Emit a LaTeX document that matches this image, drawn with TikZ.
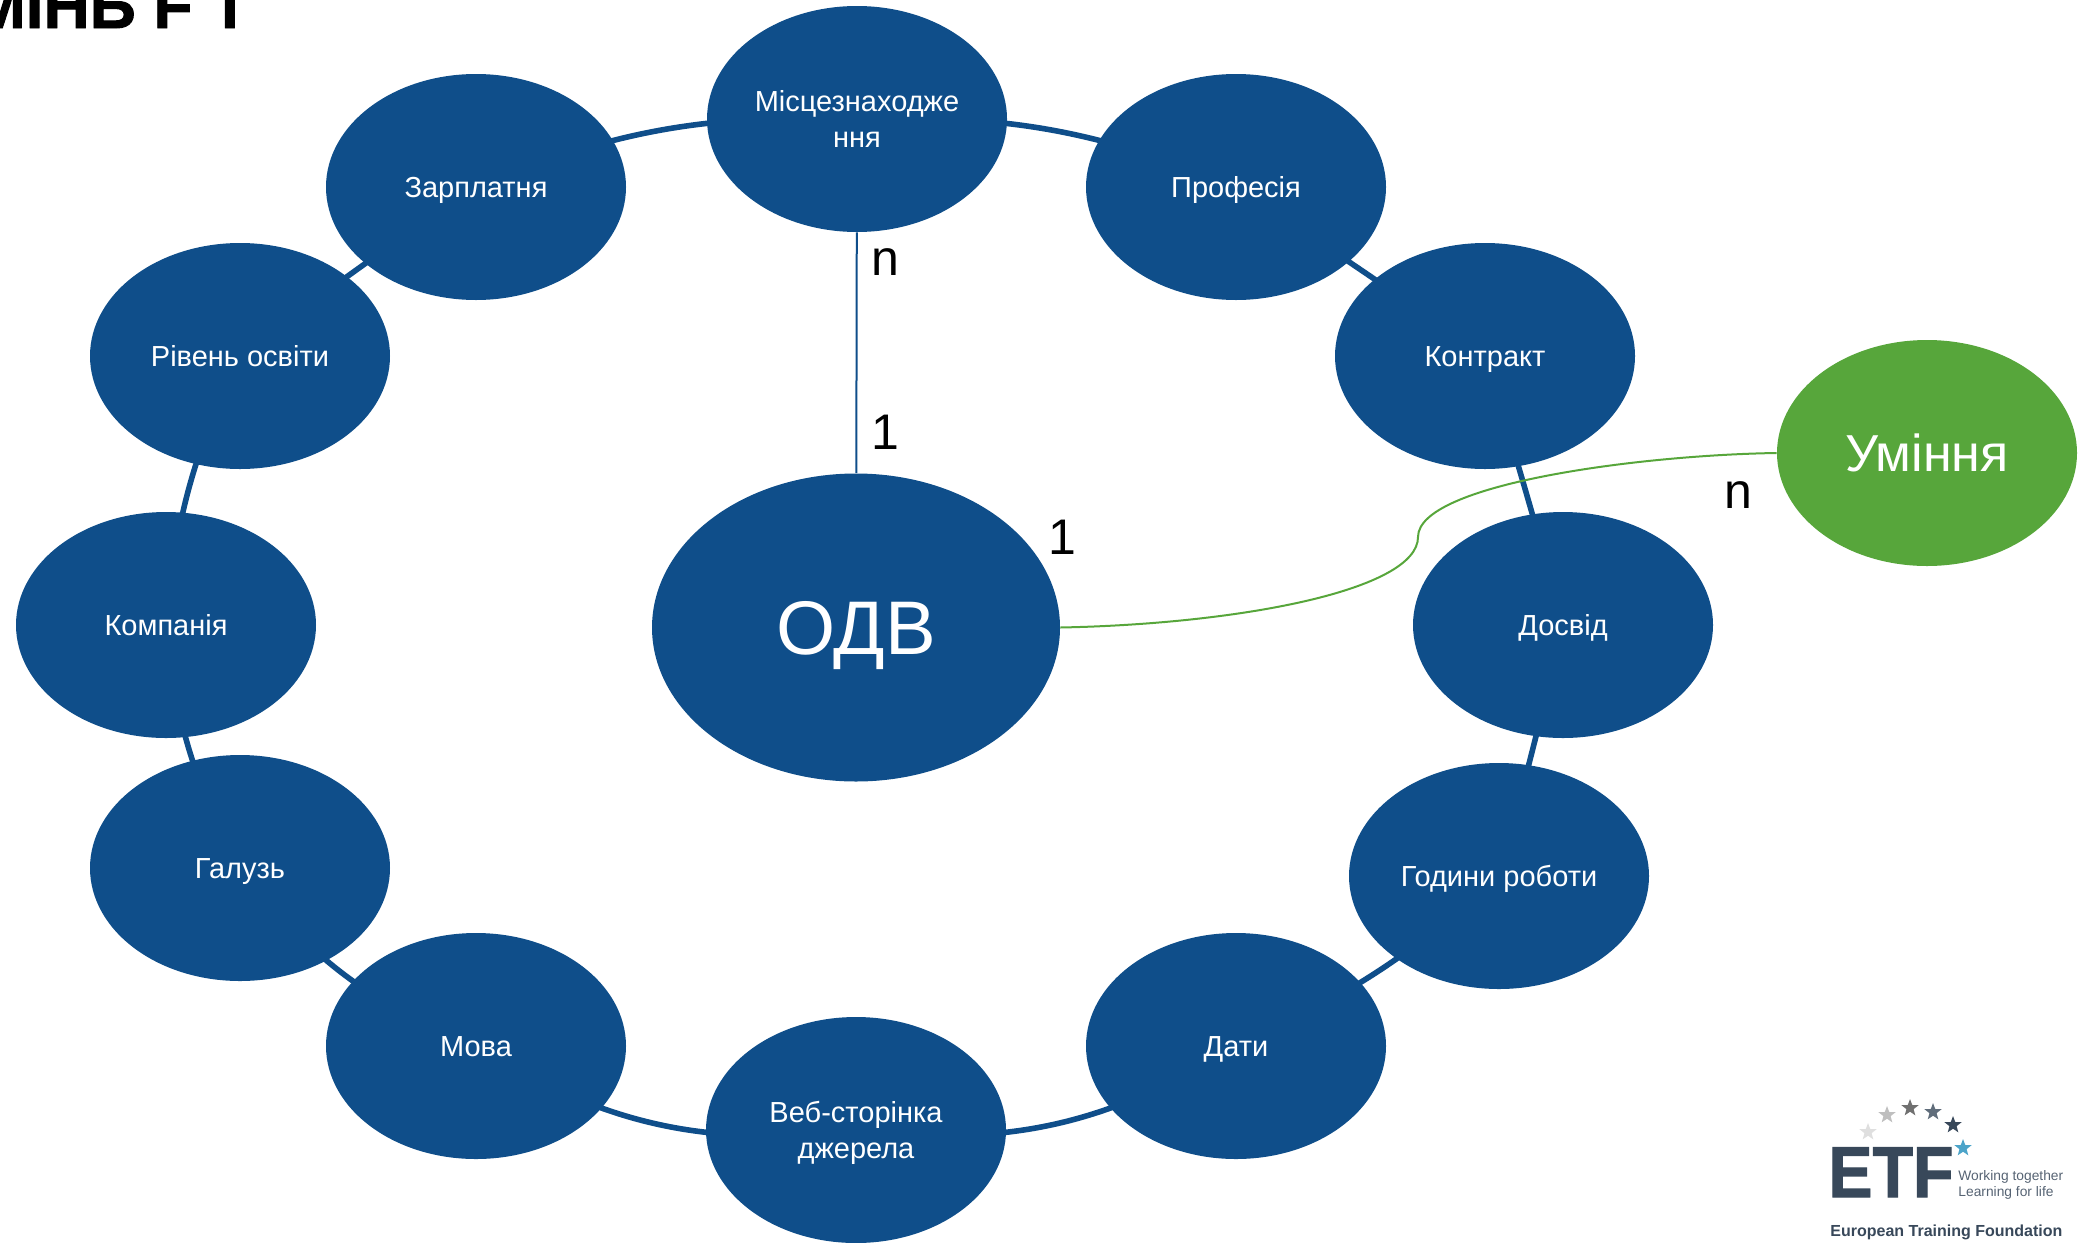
\documentclass[tikz,border=0pt]{standalone}
\usepackage{fontspec}
\setmainfont{Liberation Sans}
\newfontfamily\heavyfont[BoldFeatures={FakeBold=1.5}]{Liberation Sans}
\usetikzlibrary{shapes.geometric,backgrounds}
\definecolor{etfblue}{RGB}{15,78,138}
\definecolor{etfgreen}{RGB}{87,166,59}
\definecolor{logoslate}{RGB}{56,72,90}
\newcommand{\lna}{\rule[-3.7pt]{0pt}{17.7pt}}
\newcommand{\lnb}{\rule[-9pt]{0pt}{45pt}}
\newcommand{\lnc}{\rule[-4pt]{0pt}{26pt}}
\tikzset{
  bub/.style={ellipse,fill=etfblue,text=white,minimum width=150pt,minimum height=113pt,inner sep=0pt,align=center,font=\fontsize{14.5}{18}\selectfont},
  ringline/.style={draw=etfblue,line width=2.8pt},
  lab/.style={font=\fontsize{25}{30}\selectfont,text=black,inner sep=0pt},
  logostar/.style={star,star points=5,star point ratio=2.4,minimum size=9pt,inner sep=0pt},
}
\begin{document}
\begin{tikzpicture}[x=0.5pt,y=-0.5pt]
\useasboundingbox (0,0) rectangle (2080,1242);
\node[anchor=base west,inner sep=0pt,font=\fontsize{32}{36}\selectfont\heavyfont\bfseries] (title) at (-28,28) {МІНЬ F T};
\node[bub] (loc) at (857,119) {\lna Місцезнаходже\\\lna ння};
\node[bub] (prof) at (1236,187) {\lna Професія};
\node[bub] (contract) at (1485,356) {\lna Контракт};
\node[bub] (exp) at (1563,625) {\lna Досвід};
\node[bub] (hours) at (1499,876) {\lna Години роботи};
\node[bub] (dates) at (1236,1046) {\lna Дати};
\node[bub] (web) at (856,1130) {\lna Веб-сторінка\\\lna джерела};
\node[bub] (lang) at (476,1046) {\lna Мова};
\node[bub] (field) at (240,868) {\lna Галузь};
\node[bub] (comp) at (166,625) {\lna Компанія};
\node[bub] (edu) at (240,356) {\lna Рівень освіти};
\node[bub] (pay) at (476,187) {\lna Зарплатня};
\node[bub,minimum width=204pt,minimum height=154pt,font=\fontsize{38}{46}\selectfont] (odv) at (856,627.5) {\lnb ОДВ};
\node[bub,fill=etfgreen,font=\fontsize{26}{30}\selectfont] (skill) at (1927,453) {\lnc Уміння};
\begin{scope}[on background layer]
\draw[ringline] (loc.center) to[bend left=12] (prof.center);
\draw[ringline] (prof.center) to[bend left=1] (contract.center);
\draw[ringline] (contract.center) to[bend left=1] (exp.center);
\draw[ringline] (exp.center) to[bend left=1] (hours.center);
\draw[ringline] (hours.center) to[bend left=9] (dates.center);
\draw[ringline] (dates.center) to[bend left=19] (web.center);
\draw[ringline] (web.center) to[bend left=19] (lang.center);
\draw[ringline] (lang.center) to[bend left=15] (field.center);
\draw[ringline] (field.center) to[bend left=11] (comp.center);
\draw[ringline] (comp.center) to[bend left=10] (edu.center);
\draw[ringline] (edu.center) to[bend left=1.5] (pay.center);
\draw[ringline] (pay.center) to[bend left=12] (loc.center);
\draw[draw=etfblue,line width=1pt] (loc) -- (odv);
\end{scope}
\coordinate (mid) at (1418,537);
\draw[etfgreen,line width=1pt] (odv.east) .. controls (1240,624) and (1418,590) .. (mid) .. controls (1418,484) and (1640,455) .. (skill.west);
\node[lab] (n1) at (885,262) {n};
\node[lab] (one1) at (885,432) {1};
\node[lab] (one2) at (1062,537) {1};
\node[lab] (n2) at (1738,495) {n};
% logo
\node[logostar,fill=gray!25] (s1) at (1868,1132) {};
\node[logostar,fill=gray!50] (s2) at (1887,1115) {};
\node[logostar,fill=gray!75!black!90] (s3) at (1910,1108) {};
\node[logostar,fill=logoslate!80] (s4) at (1933,1112) {};
\node[logostar,fill=logoslate] (s5) at (1953,1125) {};
\node[logostar,fill=blue!30!cyan!70!black!70] (s6) at (1963,1148) {};
\node[anchor=base west,inner sep=0pt,text=logoslate,font=\fontsize{36}{40}\selectfont\heavyfont\bfseries,xscale=0.92] (etf) at (1828,1197) {ETF};
\node[anchor=base west,inner sep=0pt,text=logoslate!85,font=\fontsize{6.9}{8}\selectfont] (w1) at (1958,1180) {Working together};
\node[anchor=base west,inner sep=0pt,text=logoslate!85,font=\fontsize{6.9}{8}\selectfont] (w2) at (1958,1196) {Learning for life};
\node[anchor=base west,inner sep=0pt,text=logoslate,font=\fontsize{8}{10}\selectfont\bfseries] (w3) at (1830,1236) {European Training Foundation};
\end{tikzpicture}
\end{document}
